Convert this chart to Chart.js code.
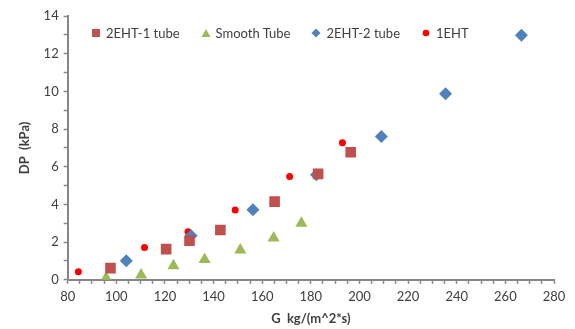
<head>
  <style>
    html,
    body {
      margin: 0;
      height: 100%;
      overflow: hidden;
      background: #fff;
    }
    #legend {
      position: absolute;
      left: 91px;
      top: 25px;
      display: flex;
      align-items: center;
      font: 13px Lato;
      color: #404040;
      pointer-events: none;
    }
    #legend .item {
      display: flex;
      align-items: center;
      margin-right: 21px;
      white-space: nowrap;
    }
    #legend svg {
      margin-right: 5px;
    }
  </style>
</head>
<body>
  <div style="position: relative; width: 575px; height: 329px">
    <canvas id="chart1"></canvas>
    <div id="legend"></div>
  </div>
</body>
<script src="https://cdn.jsdelivr.net/npm/chart.js@4"></script>
<script>
  // G kg/(m^2*s) and DP (kPa)
  const eht1G = [97.6, 120.5, 130.1, 142.8, 165.1, 183.0, 196.4]
  const eht1DP = [0.62, 1.63, 2.07, 2.64, 4.15, 5.62, 6.77]

  const smoothG = [95.8, 110.2, 123.5, 136.3, 151.0, 164.7, 176.1]
  const smoothDP = [0.09, 0.25, 0.74, 1.08, 1.58, 2.22, 3.0]

  const eht2G = [104.1, 130.8, 156.2, 182.3, 209.0, 235.4, 266.6]
  const eht2DP = [1.01, 2.34, 3.72, 5.57, 7.6, 9.88, 12.98]

  const oneG = [84.4, 111.6, 129.5, 148.9, 171.3, 193.0]
  const oneDP = [0.43, 1.72, 2.55, 3.71, 5.48, 7.27]

  const xTicks = [80, 100, 120, 140, 160, 180, 200, 220, 240, 260, 280]
  const yTicks = [0, 2, 4, 6, 8, 10, 12, 14]

  const pts = (xs, ys) => xs.map((x, i) => ({ x: x, y: ys[i] }))

  const font = 'Lato'
  const axisGray = '#868686'

  // little svg markers for the html legend
  const markerSvg = (style, color) => {
    let shape
    if (style === 'rect') {
      shape = '<rect x="1" y="1" width="8" height="8" fill="' + color + '"/>'
    } else if (style === 'triangle') {
      shape = '<polygon points="5,1 9.5,9 0.5,9" fill="' + color + '"/>'
    } else if (style === 'rectRot') {
      shape = '<polygon points="5,0.5 9.5,5 5,9.5 0.5,5" fill="' + color + '"/>'
    } else {
      shape = '<circle cx="5" cy="5" r="3.3" fill="' + color + '"/>'
    }
    return '<svg width="10" height="10" viewBox="0 0 10 10">' + shape + '</svg>'
  }

  const htmlLegend = {
    id: 'htmlLegend',
    afterUpdate: chart => {
      const box = document.getElementById('legend')
      box.innerHTML = ''
      chart.data.datasets.forEach(ds => {
        const item = document.createElement('div')
        item.className = 'item'
        item.innerHTML = markerSvg(ds.pointStyle, ds.backgroundColor)
        const span = document.createElement('span')
        span.textContent = ds.label
        item.appendChild(span)
        box.appendChild(item)
      })
    }
  }

  new Chart(document.getElementById('chart1'), {
    type: 'scatter',
    data: {
      datasets: [
        {
          label: '2EHT-1 tube',
          data: pts(eht1G, eht1DP),
          pointStyle: 'rect',
          pointRadius: 7.5,
          backgroundColor: '#C0504D',
          borderColor: '#C0504D',
          borderWidth: 0
        },
        {
          label: 'Smooth Tube',
          data: pts(smoothG, smoothDP),
          pointStyle: 'triangle',
          pointRadius: 7,
          backgroundColor: '#9BBB59',
          borderColor: '#9BBB59',
          borderWidth: 0
        },
        {
          label: '2EHT-2 tube',
          data: pts(eht2G, eht2DP),
          pointStyle: 'rectRot',
          pointRadius: 6.5,
          backgroundColor: '#4F81BD',
          borderColor: '#4F81BD',
          borderWidth: 0
        },
        {
          label: '1EHT',
          data: pts(oneG, oneDP),
          pointStyle: 'circle',
          pointRadius: 3.5,
          backgroundColor: '#FF0000',
          borderColor: '#FF0000',
          borderWidth: 0
        }
      ]
    },
    plugins: [htmlLegend],
    options: {
      responsive: true,
      maintainAspectRatio: false,
      animation: false,
      layout: {
        padding: { left: 17, right: 21, top: 16, bottom: 2 }
      },
      plugins: {
        tooltip: { enabled: false },
        legend: { display: false }
      },
      scales: {
        x: {
          type: 'linear',
          min: 80,
          max: 280,
          border: { color: axisGray, width: 2 },
          grid: {
            drawOnChartArea: false,
            tickLength: 4,
            tickColor: axisGray,
            tickWidth: 1.5
          },
          ticks: {
            stepSize: 5,
            autoSkip: false,
            maxRotation: 0,
            color: '#404040',
            font: { family: font, size: 13 },
            padding: 5,
            callback: v => (xTicks.includes(v) ? v : '')
          },
          title: {
            display: true,
            text: 'G  kg/(m^2*s)',
            color: '#404040',
            font: { family: font, size: 13, weight: 'bold' },
            padding: { top: 2, bottom: 0 }
          }
        },
        y: {
          min: 0,
          max: 14,
          border: { color: axisGray, width: 2 },
          grid: {
            drawOnChartArea: false,
            tickLength: 4,
            tickColor: axisGray,
            tickWidth: 1.5
          },
          ticks: {
            stepSize: 1,
            autoSkip: false,
            color: '#404040',
            font: { family: font, size: 13 },
            padding: 5,
            callback: v => (yTicks.includes(v) ? v : '')
          },
          title: {
            display: true,
            text: 'DP  (kPa)',
            color: '#404040',
            font: { family: font, size: 13, weight: 'bold' },
            padding: { top: 0, bottom: 6 }
          }
        }
      }
    }
  })
</script>
